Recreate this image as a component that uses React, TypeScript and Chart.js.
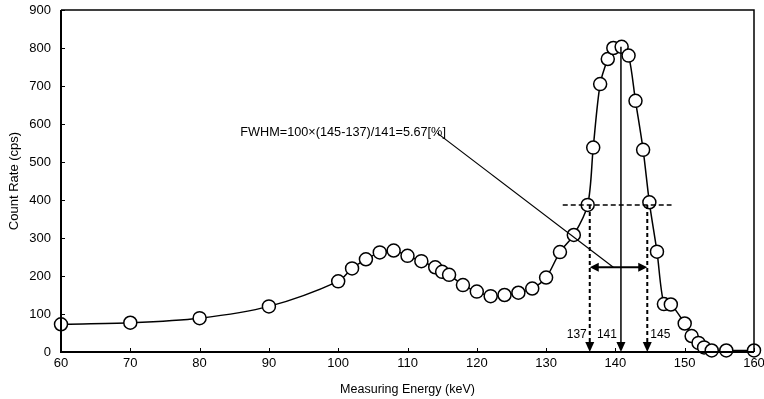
import React, { useEffect, useRef } from 'react';
import { Chart, registerables } from 'chart.js';

Chart.register(...registerables);

// ---- data ----
const energy = [60, 70, 80, 90, 100, 102, 104, 106, 108, 110, 112, 114, 115, 116, 118, 120, 122, 124, 126, 128, 130, 132, 134, 136, 136.8, 137.8, 138.9, 139.7, 140.9, 141.9, 142.9, 144, 144.9, 146, 147, 148, 150, 151, 152, 152.8, 153.9, 156, 160];
const countRate = [73, 77, 89, 120, 186, 220, 244, 262, 267, 253, 239, 223, 211, 203, 176, 159, 147, 150, 156, 167, 196, 263, 308, 387, 538, 705, 771, 800, 803, 780, 661, 532, 394, 264, 126, 125, 75, 42, 24, 12, 4, 4, 4];

// ---- annotation values ----
const halfMaxLevel = 387;
const halfMaxSpan = [132.4, 148.1];
const fwhmEdges = [136.3, 144.6];
const peakCenter = 140.8;
const peakTop = 803;
const widthArrowLevel = 223;
const leaderStart = [114.3, 576];
const leaderEnd = [139.7, 223];
const markerPositions = [136.3, 140.8, 144.6];
const markerLabels = ['137', '141', '145'];
const markerLabelLevel = 45;
const fwhmText = 'FWHM=100×(145-137)/141=5.67[%]';
const fwhmTextPos = [114.1, 578];

const FONT = '"Liberation Sans", Arial, sans-serif';

const annotationPlugin = {
  id: 'fwhmAnnotations',
  afterDatasetsDraw(chart: any) {
    const { ctx } = chart;
    const xs = chart.scales.x;
    const ys = chart.scales.y;
    const px = (v: number) => xs.getPixelForValue(v);
    const py = (v: number) => ys.getPixelForValue(v);
    const line = (x1: number, y1: number, x2: number, y2: number) => {
      ctx.beginPath();
      ctx.moveTo(x1, y1);
      ctx.lineTo(x2, y2);
      ctx.stroke();
    };
    const bottom = py(0);
    ctx.save();
    ctx.strokeStyle = '#000';
    ctx.fillStyle = '#000';

    // leader line
    ctx.lineWidth = 1.2;
    line(px(leaderStart[0]), py(leaderStart[1]), px(leaderEnd[0]), py(leaderEnd[1]));

    // half maximum dashed horizontal
    ctx.lineWidth = 1.5;
    ctx.setLineDash([5, 3]);
    line(px(halfMaxSpan[0]), py(halfMaxLevel), px(halfMaxSpan[1]), py(halfMaxLevel));
    // dashed verticals
    ctx.lineWidth = 2;
    ctx.setLineDash([4, 3]);
    fwhmEdges.forEach((e) => line(px(e), py(halfMaxLevel), px(e), bottom - 8));
    ctx.setLineDash([]);

    // peak solid line
    ctx.lineWidth = 1.5;
    line(px(peakCenter), py(peakTop), px(peakCenter), bottom - 8);

    // down arrowheads
    markerPositions.forEach((m) => {
      const x = px(m);
      ctx.beginPath();
      ctx.moveTo(x, bottom);
      ctx.lineTo(x - 4.5, bottom - 10);
      ctx.lineTo(x + 4.5, bottom - 10);
      ctx.closePath();
      ctx.fill();
    });

    // double-headed width arrow
    const ay = py(widthArrowLevel);
    const xl = px(fwhmEdges[0]);
    const xr = px(fwhmEdges[1]);
    ctx.lineWidth = 2;
    line(xl + 6, ay, xr - 6, ay);
    ctx.beginPath();
    ctx.moveTo(xl, ay);
    ctx.lineTo(xl + 9, ay - 4.5);
    ctx.lineTo(xl + 9, ay + 4.5);
    ctx.closePath();
    ctx.fill();
    ctx.beginPath();
    ctx.moveTo(xr, ay);
    ctx.lineTo(xr - 9, ay - 4.5);
    ctx.lineTo(xr - 9, ay + 4.5);
    ctx.closePath();
    ctx.fill();

    // marker labels
    ctx.font = `12px ${FONT}`;
    ctx.textBaseline = 'middle';
    const ly = py(markerLabelLevel);
    ctx.textAlign = 'right';
    ctx.fillText(markerLabels[0], px(markerPositions[0]) - 3, ly);
    ctx.fillText(markerLabels[1], px(markerPositions[1]) - 4, ly);
    ctx.textAlign = 'left';
    ctx.fillText(markerLabels[2], px(markerPositions[2]) + 3, ly);

    // FWHM text
    ctx.font = `12.7px ${FONT}`;
    ctx.textAlign = 'right';
    ctx.fillText(fwhmText, px(fwhmTextPos[0]) + 10, py(fwhmTextPos[1]));
    ctx.restore();
  },
  afterDraw(chart: any) {
    const { ctx, chartArea } = chart;
    const xs = chart.scales.x;
    const ys = chart.scales.y;
    ctx.save();
    ctx.strokeStyle = '#000';
    // frame
    ctx.lineWidth = 1.5;
    ctx.beginPath();
    ctx.moveTo(chartArea.left, chartArea.top);
    ctx.lineTo(chartArea.right, chartArea.top);
    ctx.lineTo(chartArea.right, chartArea.bottom);
    ctx.stroke();
    ctx.lineWidth = 2;
    ctx.beginPath();
    ctx.moveTo(chartArea.left, chartArea.top);
    ctx.lineTo(chartArea.left, chartArea.bottom);
    ctx.lineTo(chartArea.right, chartArea.bottom);
    ctx.stroke();
    // inside tick marks
    ctx.lineWidth = 1;
    xs.ticks.forEach((t: any) => {
      const x = Math.round(xs.getPixelForValue(t.value)) + 0.5;
      ctx.beginPath();
      ctx.moveTo(x, chartArea.bottom);
      ctx.lineTo(x, chartArea.bottom - 4);
      ctx.stroke();
    });
    ys.ticks.forEach((t: any) => {
      const y = Math.round(ys.getPixelForValue(t.value)) + 0.5;
      ctx.beginPath();
      ctx.moveTo(chartArea.left, y);
      ctx.lineTo(chartArea.left + 4, y);
      ctx.stroke();
    });
    ctx.restore();
  },
};

export default function App() {
  const ref = useRef<HTMLCanvasElement | null>(null);
  useEffect(() => {
    if (!ref.current) return;
    const chart = new Chart(ref.current, {
      type: 'line',
      data: {
        datasets: [
          {
            data: energy.map((e, i) => ({ x: e, y: countRate[i] })),
            borderColor: '#000',
            borderWidth: 1.5,
            pointRadius: 6.5,
            pointBackgroundColor: '#fff',
            pointBorderColor: '#000',
            pointBorderWidth: 1.5,
            tension: 0.3,
            fill: false,
            clip: false,
          },
        ],
      },
      options: {
        responsive: false,
        animation: false,
        events: [],
        layout: { padding: { left: 0, right: 10, top: 10, bottom: 0 } },
        plugins: { legend: { display: false }, tooltip: { enabled: false } },
        scales: {
          x: {
            type: 'linear',
            min: 60,
            max: 160,
            ticks: { stepSize: 10, color: '#000', font: { family: FONT, size: 13 }, padding: 4, maxRotation: 0 },
            grid: { display: false, drawTicks: false },
            border: { display: false },
            title: { display: true, text: 'Measuring Energy (keV)', color: '#000', font: { family: FONT, size: 12.5 }, padding: { top: 0, bottom: 2 } },
            afterFit(s: any) {
              s.height = 47;
              s.paddingLeft = 0;
              s.paddingRight = 0;
            },
          },
          y: {
            min: 0,
            max: 900,
            ticks: { stepSize: 100, color: '#000', font: { family: FONT, size: 13 }, padding: 10 },
            grid: { display: false, drawTicks: false },
            border: { display: false },
            title: { display: true, text: 'Count Rate (cps)', color: '#000', font: { family: FONT, size: 13 }, padding: { top: 7, bottom: 0 } },
            afterFit(s: any) {
              s.width = 61;
              s.paddingTop = 0;
              s.paddingBottom = 0;
            },
          },
        },
      },
      plugins: [annotationPlugin],
    } as any);
    return () => chart.destroy();
  }, []);
  return (
    <div style={{ position: 'fixed', left: 0, top: 0, width: 764, height: 399, background: '#fff' }}>
      <canvas ref={ref} width={764} height={399} style={{ display: 'block' }} />
    </div>
  );
}
